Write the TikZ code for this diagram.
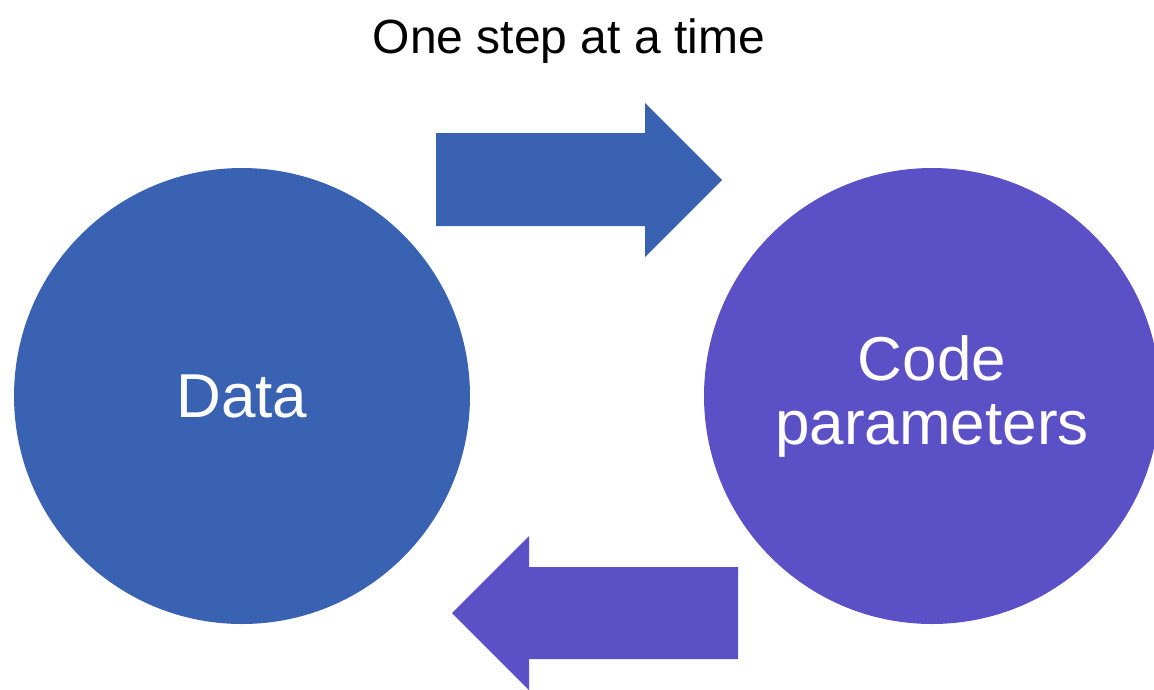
\documentclass[tikz,border=0pt]{standalone}
\usepackage{fontspec}
\setmainfont{Liberation Sans}
\definecolor{datablue}{HTML}{3A62B2}
\definecolor{codepurple}{HTML}{5B50C5}
\begin{document}
\begin{tikzpicture}[x=1pt,y=-1pt,
  bubble/.style={circle, minimum size=456pt, inner sep=0pt, text=white,
    font=\fontsize{62}{64}\selectfont, align=center},
  heading/.style={font=\fontsize{48}{58}\selectfont, anchor=base}]
\useasboundingbox (0,0) rectangle (1154,689);
\clip (0,0) rectangle (1154,689);
% title
\node[heading] (title) at (569,53) {One step at a time};
% the two stages
\node[bubble, fill=datablue] (data) at (242,396) {Data};
\node[bubble, fill=codepurple] (code) at (932,396) {Code\\parameters};
% block arrow: data -> code
\fill[datablue] (436,133) -- (645,133) -- (645,103) -- (722,180)
  -- (645,257) -- (645,226) -- (436,226) -- cycle;
% block arrow: code -> data
\fill[codepurple] (738,567) -- (529,567) -- (529,536) -- (452,613)
  -- (529,690) -- (529,659) -- (738,659) -- cycle;
\end{tikzpicture}
\end{document}
